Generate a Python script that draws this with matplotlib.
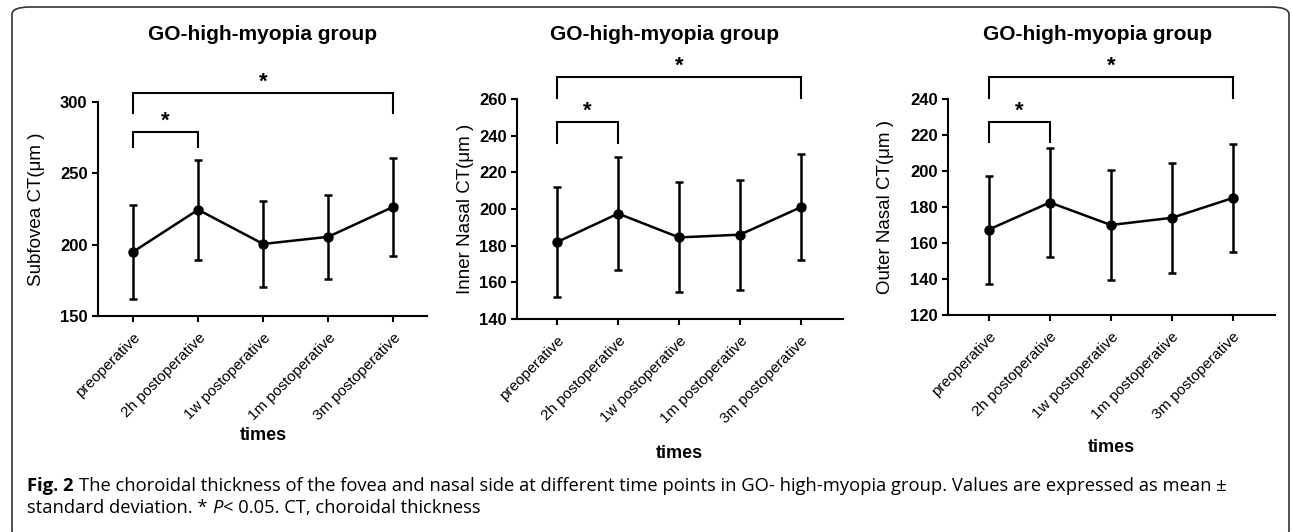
import matplotlib
matplotlib.use('Agg')
import matplotlib.pyplot as plt
from matplotlib.patches import FancyBboxPatch

plt.rcParams['font.family'] = ['Liberation Sans', 'DejaVu Sans']

# Data (mean, SD)
times = ['preoperative', '2h postoperative', '1w postoperative',
         '1m postoperative', '3m postoperative']

subfovea_mean = [195, 224.5, 200.5, 205.5, 226.5]
subfovea_sd = [33, 35, 30, 29.5, 34.5]

inner_mean = [182, 197.5, 184.5, 186, 201]
inner_sd = [30, 31, 30, 30, 29]

outer_mean = [167.5, 182.5, 170, 174, 185]
outer_sd = [30, 30.5, 30.5, 30.5, 30]

ylabels = ['Subfovea CT(μm )', 'Inner Nasal CT(μm )', 'Outer Nasal CT(μm )']
ylims = [(150, 300), (140, 260), (120, 240)]
yticks = [[150, 200, 250, 300], list(range(140, 261, 20)), list(range(120, 241, 20))]

# significance brackets: (from, to, bar height, leg bottom)
brackets_1 = [(0, 1, 279, 268.5), (0, 4, 306.3, 292)]
brackets_2 = [(0, 1, 247.5, 236), (0, 4, 272, 260.7)]
brackets_3 = [(0, 1, 227.2, 216), (0, 4, 252.2, 240.7)]

panels = [
    (subfovea_mean, subfovea_sd, brackets_1),
    (inner_mean, inner_sd, brackets_2),
    (outer_mean, outer_sd, brackets_3),
]

# layout in pixels, xlims
W, H = 1292, 532
axes_px = [(98, 102, 427, 316), (517, 99, 843, 319), (948, 99, 1275, 315)]
xlims = [(-0.54, 4.52), (-0.66, 4.69), (-0.67, 4.69)]
title_px = [(263, 35), (665, 35), (1098, 35)]
xlabel_px = [(263, 435), (679, 453), (1111, 448)]
ylabel_px = [37, 465, 885]

fig = plt.figure(figsize=(W / 100, H / 100), dpi=100)

for k, (mean, sd, brackets) in enumerate(panels):
    x0, y0, x1, y1 = axes_px[k]
    ax = fig.add_axes([x0 / W, 1 - y1 / H, (x1 - x0) / W, (y1 - y0) / H])
    x = list(range(len(times)))
    ax.errorbar(x, mean, yerr=sd, color='black', lw=1.8, elinewidth=1.8,
                capsize=3, capthick=1.8, marker='o', markersize=6.5)
    ax.set_xlim(*xlims[k])
    ax.set_ylim(*ylims[k])
    ax.set_yticks(yticks[k])
    ax.set_xticks(x)
    ax.set_xticklabels(times, rotation=45, ha='right', rotation_mode='anchor',
                       fontsize=11)
    for lab in ax.get_yticklabels():
        lab.set_fontweight('bold')
        lab.set_fontsize(12)
    ax.spines['top'].set_visible(False)
    ax.spines['right'].set_visible(False)
    ax.spines['left'].set_linewidth(1.5)
    ax.spines['bottom'].set_linewidth(1.5)
    ax.tick_params(width=1.5, length=4.5, pad=3)
    ax.tick_params(axis='x', pad=6)

    for i, j, yb, yl in brackets:
        ax.plot([i, i, j, j], [yl, yb, yb, yl], color='black', lw=1.5,
                clip_on=False, solid_joinstyle='miter')
        ax.annotate('*', xy=((i + j) / 2, yb), xytext=(0, 0),
                    textcoords='offset points', ha='center', va='bottom',
                    fontsize=16, fontweight='bold', annotation_clip=False)

    tx, ty = title_px[k]
    fig.text(tx / W, 1 - ty / H, 'GO-high-myopia group', ha='center',
             va='center', fontsize=15, fontweight='bold')
    lx, ly = xlabel_px[k]
    fig.text(lx / W, 1 - ly / H, 'times', ha='center', va='center',
             fontsize=13, fontweight='bold')
    fig.text(ylabel_px[k] / W, 1 - ((y0 + y1) / 2) / H, ylabels[k],
             rotation=90, ha='center', va='center', fontsize=13.5)

# border around the figure
border = FancyBboxPatch((12 / W, -6 / H), 1277 / W, 531 / H,
                        boxstyle='round,pad=0,rounding_size=0.014',
                        transform=fig.transFigure, fill=False,
                        edgecolor='#333333', lw=1.2, clip_on=False)
fig.patches.append(border)

# caption
cap_font = ['Open Sans', 'DejaVu Sans']
cap_size = 13.2
t1 = fig.text(27 / W, 1 - 486 / H, 'Fig. 2', fontsize=cap_size, fontweight='bold',
              family=cap_font, va='center', ha='left')
plt.annotate('The choroidal thickness of the fovea and nasal side at different time '
             'points in GO- high-myopia group. Values are expressed as mean \u00b1',
             xy=(1, 0.5), xycoords=t1, xytext=(4, 0), textcoords='offset points',
             va='center', ha='left', fontsize=cap_size, family=cap_font)
t2 = fig.text(27 / W, 1 - 508 / H, 'standard deviation. *', fontsize=cap_size,
              family=cap_font, va='center', ha='left')
t3 = plt.annotate('P', xy=(1, 0.5), xycoords=t2, xytext=(3.5, 0),
                  textcoords='offset points', va='center', ha='left',
                  fontsize=cap_size, family=cap_font, style='italic')
plt.annotate('< 0.05. CT, choroidal thickness', xy=(1, 0.5), xycoords=t3,
             xytext=(0.5, 0), textcoords='offset points', va='center', ha='left',
             fontsize=cap_size, family=cap_font)

fig.savefig('out.png', dpi=100)
